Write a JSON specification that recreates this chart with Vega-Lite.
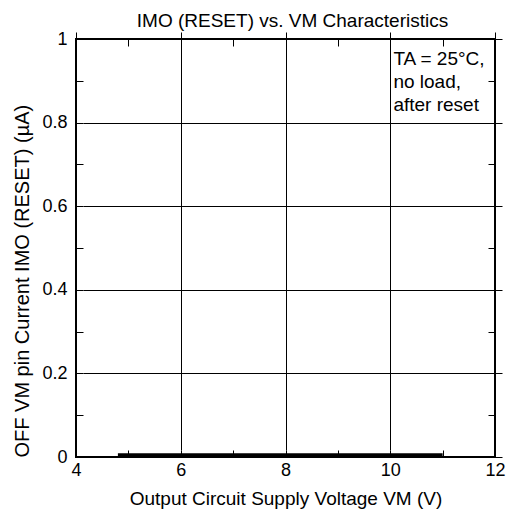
{
  "$schema": "https://vega.github.io/schema/vega-lite/v6.json",
  "autosize": "none",
  "width": 419,
  "height": 418,
  "padding": {"left": 76, "top": 39, "right": 16, "bottom": 61},
  "background": "white",
  "title": {"text": "IMO (RESET) vs. VM Characteristics", "font": "Liberation Sans", "fontSize": 19, "fontWeight": "normal", "color": "#000", "offset": -1, "dx": 7},
  "config": {
    "view": {"stroke": "#000", "strokeWidth": 2},
    "axis": {
      "labelFont": "Liberation Sans", "labelFontSize": 18, "labelColor": "#000",
      "titleFont": "Liberation Sans", "titleFontSize": 19, "titleFontWeight": "normal", "titleColor": "#000",
      "domain": false, "gridColor": "#000", "gridWidth": 1,
      "ticks": true, "tickSize": 7, "tickColor": "#000", "tickWidth": 1, "offset": -7
    }
  },
  "layer": [
    {
      "data": {"values": [
        {"v": 4.8, "i": 0.004}, {"v": 5, "i": 0.004}, {"v": 6, "i": 0.004}, {"v": 7, "i": 0.004},
        {"v": 8, "i": 0.004}, {"v": 9, "i": 0.004}, {"v": 10, "i": 0.004}, {"v": 11, "i": 0.004}
      ]},
      "mark": {"type": "line", "color": "#000", "strokeWidth": 4, "strokeCap": "butt"},
      "encoding": {
        "x": {"field": "v", "type": "quantitative", "scale": {"domain": [4, 12], "nice": false, "zero": false},
          "axis": {"orient": "bottom", "title": "Output Circuit Supply Voltage VM (V)", "values": [4,5,6,7,8,9,10,11,12],
            "labelExpr": "datum.value % 2 === 0 ? format(datum.value, '~g') : ''",
            "gridOpacity": {"condition": {"test": "datum.value % 2 === 1", "value": 0}, "value": 1},
            "labelPadding": 4, "titlePadding": 10, "labelFlush": false}},
        "y": {"field": "i", "type": "quantitative", "scale": {"domain": [0, 1], "nice": false},
          "axis": {"orient": "left", "title": "OFF VM pin Current  IMO (RESET) (µA)", "titleFontSize": 20, "titleAnchor": "start", "values": [0,0.1,0.2,0.3,0.4,0.5,0.6,0.7,0.8,0.9,1],
            "labelExpr": "round(datum.value*10) % 2 === 0 ? format(datum.value, '~g') : ''",
            "gridOpacity": {"condition": {"test": "round(datum.value*10) % 2 === 1", "value": 0}, "value": 1},
            "labelPadding": 9, "titlePadding": 9, "labelFlush": false}}
      }
    },
    {
      "data": {"values": [{"v": 10.06, "i": 0.974, "t": ["TA = 25°C,", "no load,", "after reset"]}]},
      "mark": {"type": "text", "align": "left", "baseline": "top", "font": "Liberation Sans", "fontSize": 19, "lineHeight": 23, "color": "#000"},
      "encoding": {
        "x": {"field": "v", "type": "quantitative", "scale": {"domain": [4, 12], "nice": false, "zero": false},
          "axis": {"orient": "top", "title": null, "values": [5,7,9,11], "labels": false, "grid": false}},
        "y": {"field": "i", "type": "quantitative", "scale": {"domain": [0, 1], "nice": false},
          "axis": {"orient": "right", "title": null, "values": [0.1,0.3,0.5,0.7,0.9], "labels": false, "grid": false}},
        "text": {"field": "t"}
      }
    }
  ],
  "resolve": {"axis": {"x": "independent", "y": "independent"}}
}
